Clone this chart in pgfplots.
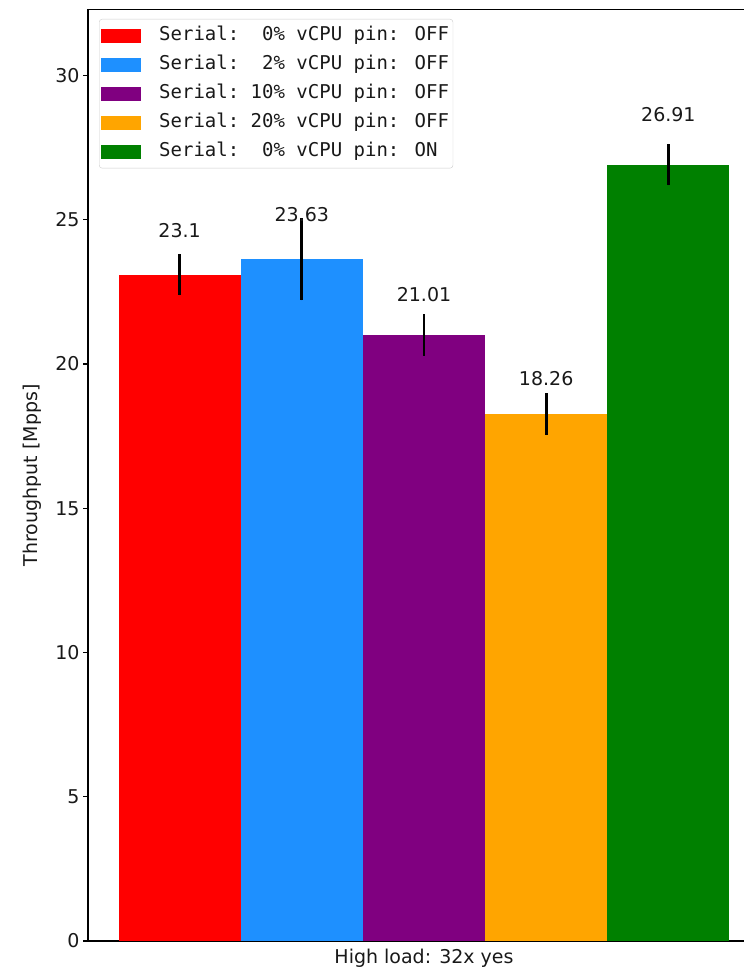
\documentclass[border=0pt]{standalone}
\usepackage{fontspec}
\setmainfont{DejaVu Sans}
\newfontfamily\legmono{DejaVu Sans Mono}
\usepackage{pgfplots}
\pgfplotsset{compat=1.18}
\definecolor{cred}{HTML}{FF0000}
\definecolor{cblue}{HTML}{1E90FF}
\definecolor{cpurple}{HTML}{800080}
\definecolor{corange}{HTML}{FFA500}
\definecolor{cgreen}{HTML}{008000}
\begin{document}
\begin{tikzpicture}[font=\fontsize{19}{23}\selectfont]
\useasboundingbox (0,0) rectangle (744pt,970pt);
\clip (0,0) rectangle (744pt,970pt);
\begin{axis}[
  at={(88pt,29pt)}, anchor=south west,
  scale only axis, width=672pt, height=931.5pt,
  xmin=-0.55, xmax=0.55, ymin=0, ymax=32.29,
  xtick={0}, xticklabels={High load: 32x yes},
  x tick style={draw=none},
  ytick={0,5,10,15,20,25,30},
  tick align=outside, tick pos=left,
  major tick length=5pt,
  y tick style={line width=1.1pt, black},
  axis line style={line width=1.2pt, black},
  /pgf/number format/assume math mode=true,
  ticklabel style={font=\fontsize{19}{23}\selectfont, text=black!90},
  ylabel={Throughput [Mpps]},
  ylabel style={at={([xshift=-56pt]axis description cs:0,0.5)}, anchor=center, font=\fontsize{19}{23}\selectfont, text=black!90},
  legend cell align=left,
  legend image code/.code={\fill[#1, sharp corners, fill opacity=1] (0pt,-7pt) rectangle (40pt,7pt); \path (56pt,0pt);},
  legend style={at={(0,1)}, anchor=north west, xshift=11pt, yshift=-9.5pt,
    draw=black!20, rounded corners=3pt, fill=white, fill opacity=0.8, text opacity=1, draw opacity=1,
    font=\legmono\fontsize{19}{23}\selectfont, text=black!90,
    inner xsep=2pt, inner ysep=5.5pt, row sep=7pt,
    nodes={inner sep=2pt, text height=14pt, text depth=4pt}},
]
\addplot[ybar, bar width=0.2, bar shift=0, fill=cred, draw=none,
  error bars/.cd, y dir=both, y explicit, error mark=none,
  error bar style={line width=2.8pt, black}]
  coordinates {(-0.4,23.1) +- (0,0.72)};
\addlegendentry{Serial:\ \ 0\% vCPU pin: OFF}
\addplot[ybar, bar width=0.2, bar shift=0, fill=cblue, draw=none,
  error bars/.cd, y dir=both, y explicit, error mark=none,
  error bar style={line width=2.8pt, black}]
  coordinates {(-0.2,23.63) +- (0,1.42)};
\addlegendentry{Serial:\ \ 2\% vCPU pin: OFF}
\addplot[ybar, bar width=0.2, bar shift=0, fill=cpurple, draw=none,
  error bars/.cd, y dir=both, y explicit, error mark=none,
  error bar style={line width=2.8pt, black}]
  coordinates {(0,21.01) +- (0,0.72)};
\addlegendentry{Serial:\ 10\% vCPU pin: OFF}
\addplot[ybar, bar width=0.2, bar shift=0, fill=corange, draw=none,
  error bars/.cd, y dir=both, y explicit, error mark=none,
  error bar style={line width=2.8pt, black}]
  coordinates {(0.2,18.26) +- (0,0.72)};
\addlegendentry{Serial:\ 20\% vCPU pin: OFF}
\addplot[ybar, bar width=0.2, bar shift=0, fill=cgreen, draw=none,
  error bars/.cd, y dir=both, y explicit, error mark=none,
  error bar style={line width=2.8pt, black}]
  coordinates {(0.4,26.91) +- (0,0.72)};
\addlegendentry{Serial:\ \ 0\% vCPU pin: ON}
\addplot[forget plot, draw=none, mark=none, nodes near coords,
  point meta=explicit symbolic,
  nodes near coords style={anchor=base, font=\fontsize{19}{23}\selectfont, text=black!90}]
  coordinates {(-0.4,24.38)[23.1] (-0.2,24.94)[23.63] (0,22.17)[21.01] (0.2,19.27)[18.26] (0.4,28.40)[26.91]};
\end{axis}
\end{tikzpicture}
\end{document}
